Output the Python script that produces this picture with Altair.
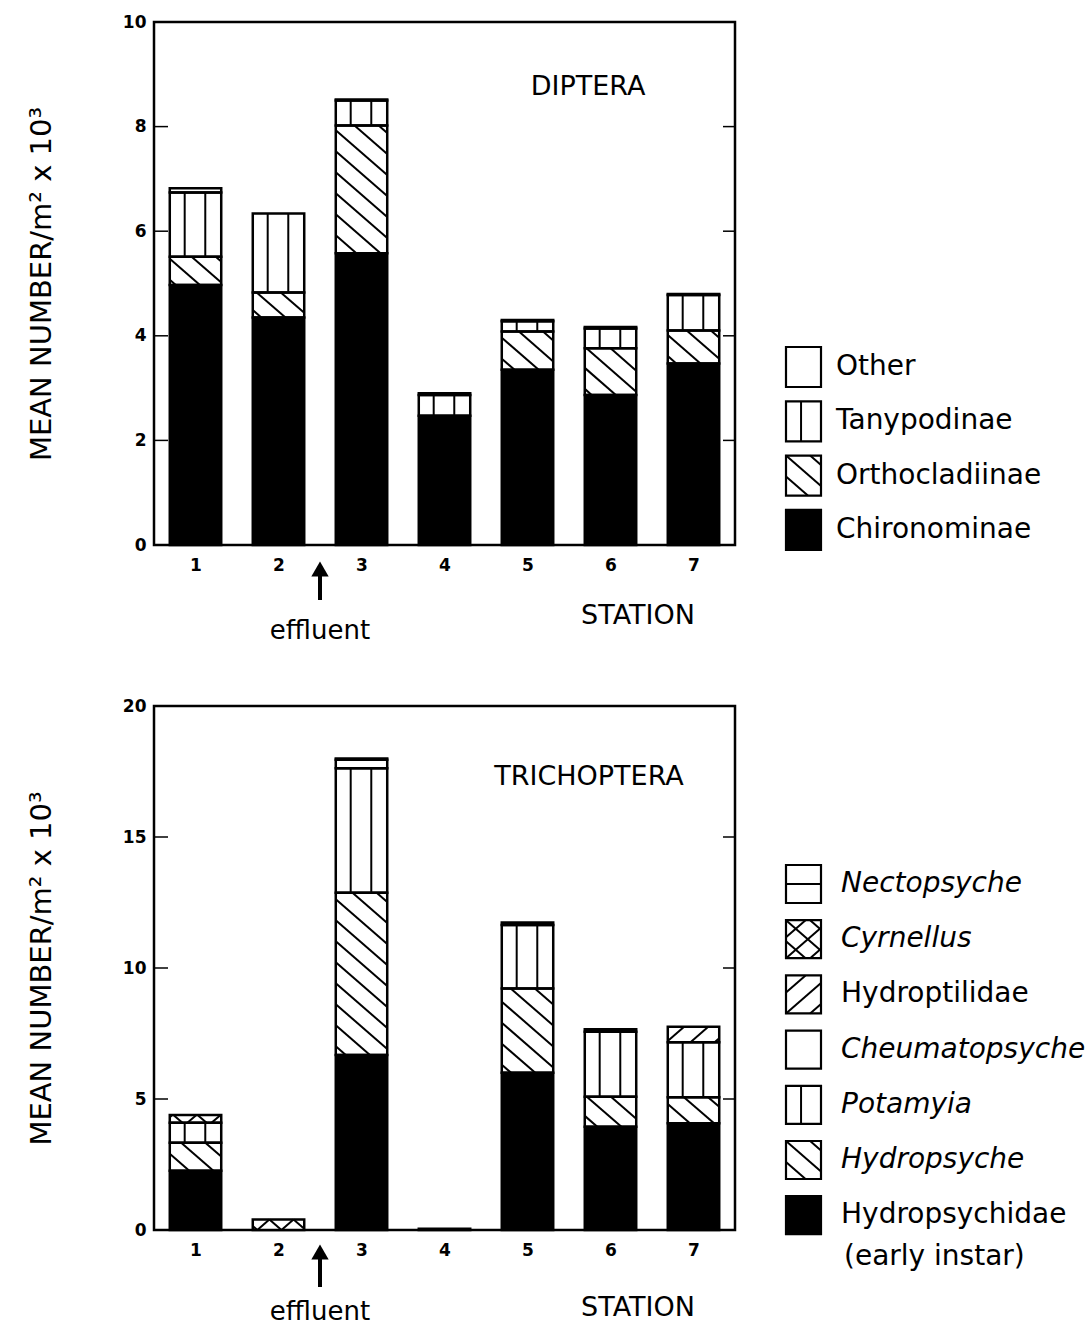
import math

import altair as alt
import pandas as pd

FONT = "DejaVu Sans"

stations = [1, 2, 3, 4, 5, 6, 7]

# Diptera, mean number per m2 (x 1000), listed bottom to top of each stack
chironominae = [4.97, 4.35, 5.58, 2.47, 3.35, 2.87, 3.47]
orthocladiinae = [0.54, 0.48, 2.44, 0.00, 0.73, 0.89, 0.63]
tanypodinae = [1.23, 1.51, 0.48, 0.40, 0.20, 0.38, 0.68]
other_diptera = [0.08, 0.00, 0.02, 0.03, 0.02, 0.03, 0.02]

# Trichoptera, mean number per m2 (x 1000), bottom to top
hydropsychidae_early = [2.26, 0.00, 6.68, 0.05, 6.00, 3.94, 4.07]
hydropsyche = [1.07, 0.00, 6.19, 0.00, 3.22, 1.15, 1.00]
potamyia = [0.76, 0.00, 4.75, 0.00, 2.42, 2.48, 2.10]
cheumatopsyche = [0.00, 0.00, 0.33, 0.00, 0.00, 0.00, 0.00]
hydroptilidae = [0.00, 0.00, 0.00, 0.00, 0.00, 0.09, 0.59]
cyrnellus = [0.30, 0.40, 0.00, 0.00, 0.00, 0.00, 0.00]
nectopsyche = [0.00, 0.00, 0.05, 0.00, 0.10, 0.00, 0.00]

diptera_y_ticks = [0, 2, 4, 6, 8, 10]
trichoptera_y_ticks = [0, 5, 10, 15, 20]
effluent_between = (2, 3)

# (label, values, fill pattern, italic)
diptera_taxa = [
    ("Chironominae", chironominae, "solid", False),
    ("Orthocladiinae", orthocladiinae, "back", False),
    ("Tanypodinae", tanypodinae, "vert", False),
    ("Other", other_diptera, "blank", False),
]
trichoptera_taxa = [
    ("Hydropsychidae", hydropsychidae_early, "solid", False),
    ("Hydropsyche", hydropsyche, "back", True),
    ("Potamyia", potamyia, "vert", True),
    ("Cheumatopsyche", cheumatopsyche, "blank", True),
    ("Hydroptilidae", hydroptilidae, "fwd", False),
    ("Cyrnellus", cyrnellus, "cross", True),
    ("Nectopsyche", nectopsyche, "horiz", True),
]

PLOT_W = 581
X_DOMAIN = [0.5, 7.5]
BAR_HALF = 0.31
HATCH_GAP = 21.0
SLOPE = 0.87
PX = alt.Scale(domain=[0, 1000], range=[0, 1000], nice=False, zero=False)


def stack(taxa):
    rows = []
    for i, st in enumerate(stations):
        base = 0.0
        for name, vals, pat, _ in taxa:
            v = vals[i]
            if v <= 0:
                continue
            rows.append({"station": st, "taxon": name, "pattern": pat,
                         "x0": st - BAR_HALF, "x1": st + BAR_HALF,
                         "y0": base, "y1": base + v})
            base += v
    return rows


def clip_lines(X0, X1, Y0, Y1, m, gap, phase=0.0):
    """Parallel lines y = c + m*x, clipped to a rectangle (pixel units, y up)."""
    segs = []
    cs = [Y0 - m * X0, Y0 - m * X1, Y1 - m * X0, Y1 - m * X1]
    k0 = math.ceil((min(cs) - phase) / gap)
    k1 = math.floor((max(cs) - phase) / gap)
    for k in range(k0, k1 + 1):
        c = phase + k * gap
        xa, xb = (Y0 - c) / m, (Y1 - c) / m
        lo, hi = max(X0, min(xa, xb)), min(X1, max(xa, xb))
        if hi - lo > 1.0:
            segs.append((lo, c + m * lo, hi, c + m * hi))
    return segs


def texture(x0, x1, y0, y1, pat, sx, sy, vert_fracs, corner_phase=False):
    """Hatch strokes for one filled block; sx, sy are pixels per unit."""
    out = []
    X0, X1, Y0, Y1 = x0 * sx, x1 * sx, y0 * sy, y1 * sy
    slopes = {"back": [-SLOPE], "fwd": [SLOPE], "cross": [SLOPE, -SLOPE]}.get(pat, [])
    for m in slopes:
        phase = 0.0
        if corner_phase:
            cy = Y1 if m < 0 else Y0
            phase = (cy - m * X0) % HATCH_GAP
        for a, b, c, d in clip_lines(X0, X1, Y0, Y1, m, HATCH_GAP, phase):
            out.append({"x": a / sx, "y": b / sy, "x2": c / sx, "y2": d / sy})
    if pat == "vert":
        for f in vert_fracs:
            xv = x0 + f * (x1 - x0)
            out.append({"x": xv, "y": y0, "x2": xv, "y2": y1})
    if pat == "horiz":
        ym = (y0 + y1) / 2
        out.append({"x": x0, "y": ym, "x2": x1, "y2": ym})
    return out


def panel(taxa, y_max, y_ticks, height, name, name_pos, legend_c0, legend_step,
          swatch_h, text_x, extra_line, station_y, effluent_y, arrow_tip, arrow_base):
    sx = PLOT_W / (X_DOMAIN[1] - X_DOMAIN[0])
    sy = height / y_max
    segs = stack(taxa)
    seg_df = pd.DataFrame(segs)
    lines = []
    for s in segs:
        lines += texture(s["x0"], s["x1"], s["y0"], s["y1"], s["pattern"], sx, sy, (0.29, 0.69))
    line_df = pd.DataFrame(lines)

    xs = alt.Scale(domain=X_DOMAIN, nice=False, zero=False)
    ys = alt.Scale(domain=[0, y_max], nice=False, zero=False)
    x_axis = alt.Axis(values=stations, format="d", ticks=False, domain=False, grid=False,
                      labelPadding=12, labelFontSize=17, labelFontWeight="bold", title="")
    y_axis = alt.Axis(values=y_ticks, ticks=False, domain=False, grid=False,
                      labelPadding=8, labelFontSize=17, labelFontWeight="bold",
                      title="MEAN NUMBER/m² x 10³", titleFontSize=29,
                      titleFontWeight="normal", titlePadding=66)

    def X(f):
        return alt.X(f, scale=xs, axis=x_axis)

    def Y(f):
        return alt.Y(f, scale=ys, axis=y_axis)

    fills = alt.Chart(seg_df).mark_rect(strokeWidth=0).encode(
        x=X("x0:Q"), x2="x1", y=Y("y0:Q"), y2="y1",
        fill=alt.when(alt.datum.pattern == "solid").then(alt.value("black")).otherwise(alt.value("white")),
    )
    hatch = alt.Chart(line_df).mark_rule(color="black", strokeWidth=2).encode(
        x=X("x:Q"), x2="x2", y=Y("y:Q"), y2="y2")
    outline = alt.Chart(seg_df).mark_rect(fillOpacity=0, stroke="black", strokeWidth=2.5).encode(
        x=X("x0:Q"), x2="x1", y=Y("y0:Q"), y2="y1")

    tick_df = pd.DataFrame({"t": y_ticks})
    left_ticks = alt.Chart(tick_df).mark_rule(color="black", strokeWidth=1.5).encode(
        y=Y("t:Q"), x=alt.value(0), x2=alt.value(14))
    right_ticks = alt.Chart(tick_df).mark_rule(color="black", strokeWidth=1.5).encode(
        y=Y("t:Q"), x=alt.value(PLOT_W - 12), x2=alt.value(PLOT_W))

    eff_df = pd.DataFrame({"x": [sum(effluent_between) / 2]})
    arrow_shaft = alt.Chart(eff_df).mark_rule(color="black", strokeWidth=4).encode(
        x=X("x:Q"), y=alt.value(arrow_tip + 10), y2=alt.value(arrow_base))
    arrow_head = alt.Chart(eff_df).mark_point(shape="triangle-up", filled=True, size=300,
                                              color="black", opacity=1).encode(
        x=X("x:Q"), y=alt.value(arrow_tip + 9))
    eff_text = alt.Chart(eff_df).mark_text(fontSize=26, color="black").encode(
        x=X("x:Q"), y=alt.value(effluent_y), text=alt.value("effluent"))

    main = alt.layer(fills, hatch, outline, left_ticks, right_ticks,
                     arrow_shaft, arrow_head, eff_text)

    # legend, drawn in pixel units to the right of the plot
    sw_x0, sw_x1 = 632, 667
    leg_rows, leg_lines = [], []
    for j, (label, _, pat, italic) in enumerate(reversed(taxa)):
        cy = legend_c0 + j * legend_step
        top, bot = cy - swatch_h / 2, cy + swatch_h / 2
        leg_rows.append({"x": sw_x0, "x2": sw_x1, "y": top, "y2": bot, "pattern": pat,
                         "label": label, "italic": italic, "ty": cy})
        for ln in texture(sw_x0, sw_x1, -bot, -top, pat, 1.0, 1.0, (0.43,), corner_phase=True):
            leg_lines.append({"x": ln["x"], "x2": ln["x2"], "y": -ln["y"], "y2": -ln["y2"]})
    leg_df = pd.DataFrame(leg_rows)
    legl_df = pd.DataFrame(leg_lines)

    PXX = alt.X("x:Q", scale=PX, axis=None)
    PXY = alt.Y("y:Q", scale=PX, axis=None)
    lfill = alt.Chart(leg_df).mark_rect(strokeWidth=0).encode(
        x=PXX, x2="x2", y=PXY, y2="y2",
        fill=alt.when(alt.datum.pattern == "solid").then(alt.value("black")).otherwise(alt.value("white")))
    lhatch = alt.Chart(legl_df).mark_rule(color="black", strokeWidth=2).encode(
        x=PXX, x2="x2", y=PXY, y2="y2")
    lout = alt.Chart(leg_df).mark_rect(fillOpacity=0, stroke="black", strokeWidth=2.2).encode(
        x=PXX, x2="x2", y=PXY, y2="y2")
    ltext = alt.Chart(leg_df).transform_filter("!datum.italic").mark_text(
        align="left", baseline="middle", fontSize=28, color="black").encode(
        x=alt.value(text_x), y=alt.Y("ty:Q", scale=PX, axis=None), text="label:N")
    ltext_it = alt.Chart(leg_df).transform_filter("datum.italic").mark_text(
        align="left", baseline="middle", fontSize=28, fontStyle="italic", color="black").encode(
        x=alt.value(text_x), y=alt.Y("ty:Q", scale=PX, axis=None), text="label:N")

    words = [{"x": name_pos[0], "y": name_pos[1], "t": name, "left": False},
             {"x": 484, "y": station_y, "t": "STATION", "left": False}]
    if extra_line:
        words.append({"x": text_x + 3, "y": legend_c0 + (len(taxa) - 1) * legend_step + 42,
                      "t": extra_line, "left": True})
    words_df = pd.DataFrame(words)
    centered = alt.Chart(words_df).transform_filter("!datum.left").mark_text(
        fontSize=27, color="black", baseline="middle").encode(
        x=PXX, y=PXY, text="t:N")
    layers = [lfill, lhatch, lout, ltext, ltext_it, centered]
    if extra_line:
        lefty = alt.Chart(words_df).transform_filter("datum.left").mark_text(
            fontSize=28, color="black", baseline="middle", align="left").encode(
            x=PXX, y=PXY, text="t:N")
        layers.append(lefty)
    legend = alt.layer(*layers)

    return alt.layer(main, legend).resolve_scale(x="independent", y="independent").properties(
        width=PLOT_W, height=height)


top = panel(diptera_taxa, 10, diptera_y_ticks, 523, "DIPTERA", (434, 65),
            345, 54.3, 40, 682, None, 594, 609, 538, 578)
bottom = panel(trichoptera_taxa, 20, trichoptera_y_ticks, 524, "TRICHOPTERA", (435, 71),
               178, 55.2, 38, 687, "(early instar)", 602, 606, 537, 581)

chart = alt.vconcat(top, bottom, spacing=49).properties(
    padding={"left": 26, "top": 11, "right": 0, "bottom": 0}
).configure(
    font=FONT,
    view=alt.ViewConfig(stroke="black", strokeWidth=2.5),
    axis=alt.AxisConfig(labelColor="black", titleColor="black", labelFont=FONT, titleFont=FONT),
    text=alt.MarkConfig(font=FONT),
)

chart.save("out.html", embed_options={"renderer": "svg", "actions": False})
